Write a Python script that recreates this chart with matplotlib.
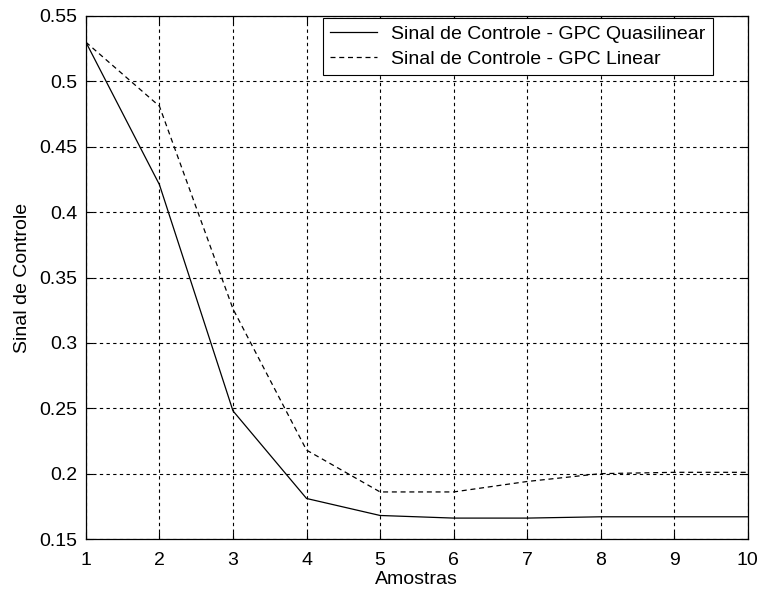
import matplotlib.pyplot as plt

# Valores
amostras = [1, 2, 3, 4, 5, 6, 7, 8, 9, 10]
gpc_quasilinear = [0.530, 0.421, 0.248, 0.181, 0.168, 0.166, 0.166, 0.167, 0.167, 0.167]
gpc_linear = [0.530, 0.481, 0.326, 0.218, 0.186, 0.186, 0.194, 0.200, 0.201, 0.201]

x_ticks = list(range(1, 11))
y_ticks = [0.15, 0.2, 0.25, 0.3, 0.35, 0.4, 0.45, 0.5, 0.55]
y_labels = ["0.15", "0.2", "0.25", "0.3", "0.35", "0.4", "0.45", "0.5", "0.55"]

plt.rcParams["font.family"] = ["Liberation Sans", "DejaVu Sans"]
plt.rcParams["font.size"] = 14

fig = plt.figure(figsize=(7.6, 5.92), dpi=100)
ax = fig.add_axes([0.113, 0.0895, 0.871, 0.8835])

ax.plot(amostras, gpc_quasilinear, color="black", linewidth=0.9,
        label="Sinal de Controle - GPC Quasilinear")
ax.plot(amostras, gpc_linear, color="black", linewidth=0.9,
        linestyle=(0, (4, 3)), label="Sinal de Controle - GPC Linear")

ax.set_xlim(1, 10)
ax.set_ylim(0.15, 0.55)
ax.set_xticks(x_ticks)
ax.set_yticks(y_ticks)
ax.set_yticklabels(y_labels)
ax.grid(True, color="black", linestyle=(0, (3, 3)), linewidth=0.8)
ax.tick_params(direction="in", length=5, top=True, right=True, width=0.8)
ax.tick_params(axis="x", pad=9)
ax.tick_params(axis="y", pad=6)
for spine in ax.spines.values():
    spine.set_linewidth(0.9)

ax.set_xlabel("Amostras", labelpad=2)
ax.set_ylabel("Sinal de Controle", labelpad=6)

leg = ax.legend(loc="upper right", bbox_to_anchor=(0.947, 0.996),
                fancybox=False, edgecolor="black", framealpha=1,
                handlelength=2.4, borderpad=0.37, labelspacing=0.38,
                handletextpad=0.75, borderaxespad=0)
leg.get_frame().set_linewidth(0.8)

fig.savefig("out.png", dpi=100)
